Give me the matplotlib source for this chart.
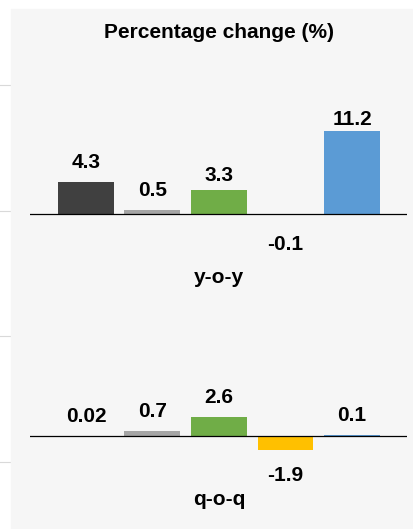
import matplotlib
matplotlib.use("Agg")
import matplotlib.pyplot as plt
from matplotlib.patches import Rectangle
from matplotlib.lines import Line2D

# data
periods = ["y-o-y", "q-o-q"]
yoy_values = [4.3, 0.5, 3.3, -0.1, 11.2]
qoq_values = [0.02, 0.7, 2.6, -1.9, 0.1]
bar_colors = ["#404040", "#a5a5a5", "#70ad47", "#ffc000", "#5b9bd5"]
title = "Percentage change (%)"

# label gaps in pixels (distance from bar end to text baseline)
yoy_pads = [14, 14, 9, -35, 6]
qoq_pads = [14, 14, 14, -31, 14]

W, H = 413, 529
PX_PER_UNIT = 7.4
plt.rcParams["font.family"] = ["Liberation Sans", "DejaVu Sans"]
FS = 15

fig = plt.figure(figsize=(W / 100, H / 100), dpi=100, facecolor="white")

# light panel behind the chart
fig.patches.append(Rectangle((11 / W, 0), (W - 11) / W, 1 - 9 / H,
                             transform=fig.transFigure, color="#f6f6f6", zorder=-5))
# stubs of the outer grid on the left
for gy in [85, 211, 336, 462]:
    fig.add_artist(Line2D([0, 11 / W], [1 - gy / H, 1 - gy / H],
                          transform=fig.transFigure, color="#d9d9d9", lw=0.8, zorder=-5))

fig.text(219.5 / W, 1 - 38 / H, title, ha="center", va="baseline",
         fontsize=FS, fontweight="bold")


def make_panel(top_px, bottom_px, base_px, values, pads, name):
    ax = fig.add_axes([30 / W, 1 - bottom_px / H, 377 / W, (bottom_px - top_px) / H])
    ax.set_facecolor("none")
    ax.set_zorder(2)
    x = list(range(len(values)))
    ax.bar(x, values, width=0.842, color=bar_colors, zorder=2)
    ax.axhline(0, color="black", lw=0.9, zorder=3)
    ax.set_xlim(-0.842, 4.827)
    ax.set_ylim(-(bottom_px - base_px) / PX_PER_UNIT, (base_px - top_px) / PX_PER_UNIT)
    for i, v in enumerate(values):
        ax.annotate(str(v), xy=(i, v), xytext=(0, pads[i] * 0.72),
                    textcoords="offset points", ha="center", va="baseline",
                    fontsize=FS, fontweight="bold")
    ax.annotate(name, xy=(2, 0), xytext=(0, -69 * 0.72), textcoords="offset points",
                ha="center", va="baseline", fontsize=FS, fontweight="bold",
                annotation_clip=False)
    ax.axis("off")
    return ax


make_panel(100, 260, 214, yoy_values, yoy_pads, periods[0])
make_panel(380, 490, 436, qoq_values, qoq_pads, periods[1])

fig.savefig("out.png", dpi=100, facecolor="white")
